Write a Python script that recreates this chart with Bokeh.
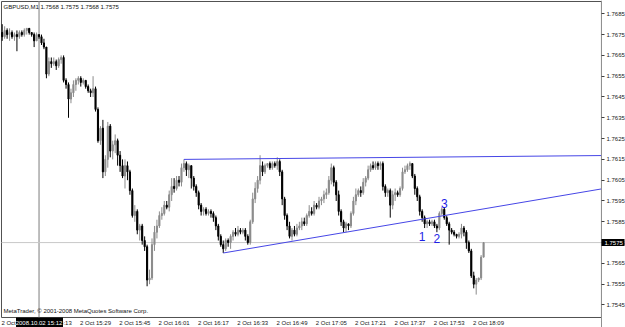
from bokeh.plotting import figure
from bokeh.models import Range1d, FixedTicker, PrintfTickFormatter, Label, LinearAxis
from bokeh.core.properties import value
from bokeh.embed import file_html
from bokeh.resources import INLINE

SYMBOL = "GBPUSD,M1"
COPYRIGHT = "MetaTrader, \u00a9 2001-2008 MetaQuotes Software Corp."

# one-minute bars from 2 Oct 14:57 (bar 0) to 18:13 (bar 196)
OPEN = [
    1.7676, 1.7674, 1.7677, 1.7675, 1.7676, 1.7674, 1.7675, 1.7674, 1.7676, 1.7675,
    1.7677, 1.7678, 1.7676, 1.7675, 1.7672, 1.7675, 1.7674, 1.7671, 1.7669, 1.7656,
    1.7662, 1.7661, 1.7662, 1.7660, 1.7663, 1.7664, 1.7653, 1.7651, 1.7644, 1.7647,
    1.7651, 1.7653, 1.7654, 1.7652, 1.7653, 1.7650, 1.7648, 1.7647, 1.7649, 1.7639,
    1.7624, 1.7630, 1.7609, 1.7615, 1.7631, 1.7619, 1.7622, 1.7624, 1.7617, 1.7612,
    1.7607, 1.7612, 1.7609, 1.7600, 1.7588, 1.7590, 1.7581, 1.7583, 1.7576, 1.7573,
    1.7557, 1.7558, 1.7574, 1.7580, 1.7583, 1.7588, 1.7589, 1.7593, 1.7592, 1.7598,
    1.7602, 1.7601, 1.7605, 1.7604, 1.7611, 1.7613, 1.7610, 1.7612, 1.7606, 1.7602,
    1.7599, 1.7593, 1.7590, 1.7591, 1.7589, 1.7590, 1.7589, 1.7587, 1.7583, 1.7578,
    1.7574, 1.7572, 1.7576, 1.7575, 1.7578, 1.7580, 1.7579, 1.7581, 1.7580, 1.7581,
    1.7578, 1.7575, 1.7585, 1.7596, 1.7601, 1.7605, 1.7612, 1.7609, 1.7612, 1.7613,
    1.7611, 1.7613, 1.7612, 1.7614, 1.7609, 1.7596, 1.7588, 1.7583, 1.7578, 1.7581,
    1.7579, 1.7582, 1.7583, 1.7585, 1.7584, 1.7588, 1.7590, 1.7589, 1.7593, 1.7592,
    1.7595, 1.7596, 1.7598, 1.7599, 1.7605, 1.7611, 1.7604, 1.7598, 1.7590, 1.7585,
    1.7582, 1.7584, 1.7583, 1.7589, 1.7595, 1.7598, 1.7600, 1.7599, 1.7604, 1.7606,
    1.7610, 1.7612, 1.7611, 1.7613, 1.7612, 1.7613, 1.7602, 1.7599, 1.7600, 1.7593,
    1.7598, 1.7599, 1.7598, 1.7601, 1.7609, 1.7610, 1.7612, 1.7613, 1.7607, 1.7601,
    1.7597, 1.7590, 1.7587, 1.7584, 1.7585, 1.7584, 1.7585, 1.7583, 1.7582, 1.7589,
    1.7591, 1.7587, 1.7584, 1.7581, 1.7580, 1.7579, 1.7578, 1.7579, 1.7582, 1.7580,
    1.7575, 1.7571, 1.7559, 1.7555, 1.7557, 1.7558, 1.7568,
]
HIGH = [
    1.7680, 1.7679, 1.7678, 1.7678, 1.7677, 1.7676, 1.7677, 1.7677, 1.7677, 1.7678,
    1.7678, 1.7678, 1.7676, 1.7676, 1.7676, 1.7675, 1.7675, 1.7673, 1.7669, 1.7664,
    1.7664, 1.7664, 1.7663, 1.7664, 1.7665, 1.7665, 1.7654, 1.7652, 1.7649, 1.7653,
    1.7654, 1.7655, 1.7655, 1.7654, 1.7653, 1.7651, 1.7649, 1.7655, 1.7650, 1.7640,
    1.7631, 1.7634, 1.7617, 1.7633, 1.7632, 1.7624, 1.7627, 1.7625, 1.7619, 1.7615,
    1.7615, 1.7614, 1.7610, 1.7601, 1.7593, 1.7591, 1.7584, 1.7584, 1.7578, 1.7574,
    1.7562, 1.7577, 1.7583, 1.7586, 1.7590, 1.7592, 1.7595, 1.7595, 1.7600, 1.7606,
    1.7606, 1.7607, 1.7607, 1.7613, 1.7615, 1.7614, 1.7613, 1.7612, 1.7607, 1.7603,
    1.7600, 1.7594, 1.7592, 1.7592, 1.7591, 1.7591, 1.7590, 1.7588, 1.7584, 1.7579,
    1.7576, 1.7577, 1.7577, 1.7579, 1.7581, 1.7582, 1.7583, 1.7582, 1.7582, 1.7582,
    1.7579, 1.7586, 1.7599, 1.7604, 1.7607, 1.7617, 1.7614, 1.7613, 1.7613, 1.7614,
    1.7614, 1.7614, 1.7616, 1.7615, 1.7610, 1.7597, 1.7589, 1.7585, 1.7582, 1.7583,
    1.7584, 1.7585, 1.7587, 1.7587, 1.7589, 1.7593, 1.7592, 1.7595, 1.7594, 1.7597,
    1.7597, 1.7600, 1.7601, 1.7607, 1.7613, 1.7612, 1.7605, 1.7600, 1.7591, 1.7586,
    1.7585, 1.7584, 1.7590, 1.7597, 1.7601, 1.7601, 1.7602, 1.7606, 1.7607, 1.7612,
    1.7613, 1.7614, 1.7614, 1.7614, 1.7614, 1.7614, 1.7603, 1.7601, 1.7601, 1.7600,
    1.7601, 1.7600, 1.7602, 1.7611, 1.7612, 1.7613, 1.7614, 1.7613, 1.7608, 1.7602,
    1.7598, 1.7591, 1.7588, 1.7586, 1.7586, 1.7586, 1.7586, 1.7584, 1.7590, 1.7592,
    1.7592, 1.7588, 1.7585, 1.7582, 1.7581, 1.7579, 1.7580, 1.7584, 1.7583, 1.7581,
    1.7576, 1.7572, 1.7561, 1.7558, 1.7558, 1.7569, 1.7575,
]
LOW = [
    1.7672, 1.7673, 1.7673, 1.7672, 1.7673, 1.7672, 1.7667, 1.7673, 1.7674, 1.7674,
    1.7675, 1.7675, 1.7674, 1.7669, 1.7672, 1.7673, 1.7670, 1.7668, 1.7654, 1.7655,
    1.7659, 1.7660, 1.7658, 1.7659, 1.7661, 1.7652, 1.7649, 1.7635, 1.7642, 1.7645,
    1.7648, 1.7651, 1.7650, 1.7651, 1.7649, 1.7647, 1.7645, 1.7645, 1.7638, 1.7623,
    1.7622, 1.7606, 1.7607, 1.7611, 1.7616, 1.7615, 1.7618, 1.7612, 1.7609, 1.7606,
    1.7601, 1.7605, 1.7598, 1.7587, 1.7585, 1.7579, 1.7576, 1.7574, 1.7571, 1.7554,
    1.7555, 1.7557, 1.7571, 1.7577, 1.7582, 1.7586, 1.7588, 1.7591, 1.7590, 1.7595,
    1.7599, 1.7600, 1.7602, 1.7602, 1.7609, 1.7607, 1.7606, 1.7601, 1.7600, 1.7597,
    1.7591, 1.7588, 1.7588, 1.7588, 1.7588, 1.7587, 1.7585, 1.7581, 1.7576, 1.7573,
    1.7570, 1.7571, 1.7573, 1.7572, 1.7576, 1.7578, 1.7578, 1.7579, 1.7579, 1.7576,
    1.7574, 1.7574, 1.7584, 1.7594, 1.7599, 1.7603, 1.7607, 1.7608, 1.7611, 1.7610,
    1.7610, 1.7611, 1.7610, 1.7607, 1.7593, 1.7586, 1.7581, 1.7577, 1.7576, 1.7578,
    1.7578, 1.7581, 1.7581, 1.7583, 1.7583, 1.7587, 1.7588, 1.7588, 1.7591, 1.7591,
    1.7593, 1.7594, 1.7596, 1.7598, 1.7603, 1.7602, 1.7595, 1.7588, 1.7583, 1.7580,
    1.7580, 1.7581, 1.7582, 1.7588, 1.7593, 1.7597, 1.7597, 1.7598, 1.7602, 1.7605,
    1.7609, 1.7610, 1.7610, 1.7610, 1.7610, 1.7600, 1.7597, 1.7597, 1.7587, 1.7591,
    1.7595, 1.7597, 1.7597, 1.7600, 1.7608, 1.7609, 1.7610, 1.7606, 1.7598, 1.7595,
    1.7588, 1.7585, 1.7582, 1.7582, 1.7583, 1.7583, 1.7582, 1.7580, 1.7581, 1.7588,
    1.7586, 1.7583, 1.7574, 1.7579, 1.7578, 1.7577, 1.7577, 1.7577, 1.7578, 1.7572,
    1.7570, 1.7558, 1.7553, 1.7550, 1.7556, 1.7557, 1.7568,
]
CLOSE = [
    1.7674, 1.7677, 1.7675, 1.7676, 1.7674, 1.7675, 1.7674, 1.7676, 1.7675, 1.7677,
    1.7678, 1.7676, 1.7675, 1.7672, 1.7675, 1.7674, 1.7671, 1.7669, 1.7656, 1.7662,
    1.7661, 1.7662, 1.7660, 1.7663, 1.7664, 1.7653, 1.7651, 1.7644, 1.7647, 1.7651,
    1.7653, 1.7654, 1.7652, 1.7653, 1.7650, 1.7648, 1.7647, 1.7649, 1.7639, 1.7624,
    1.7630, 1.7609, 1.7615, 1.7631, 1.7619, 1.7622, 1.7624, 1.7617, 1.7612, 1.7607,
    1.7612, 1.7609, 1.7600, 1.7588, 1.7590, 1.7581, 1.7583, 1.7576, 1.7573, 1.7557,
    1.7558, 1.7574, 1.7580, 1.7583, 1.7588, 1.7589, 1.7593, 1.7592, 1.7598, 1.7602,
    1.7601, 1.7605, 1.7604, 1.7611, 1.7613, 1.7610, 1.7612, 1.7606, 1.7602, 1.7599,
    1.7593, 1.7590, 1.7591, 1.7589, 1.7590, 1.7589, 1.7587, 1.7583, 1.7578, 1.7574,
    1.7572, 1.7576, 1.7575, 1.7578, 1.7580, 1.7579, 1.7581, 1.7580, 1.7581, 1.7578,
    1.7575, 1.7585, 1.7596, 1.7601, 1.7605, 1.7612, 1.7609, 1.7612, 1.7613, 1.7611,
    1.7613, 1.7612, 1.7614, 1.7609, 1.7596, 1.7588, 1.7583, 1.7578, 1.7581, 1.7579,
    1.7582, 1.7583, 1.7585, 1.7584, 1.7588, 1.7590, 1.7589, 1.7593, 1.7592, 1.7595,
    1.7596, 1.7598, 1.7599, 1.7605, 1.7611, 1.7604, 1.7598, 1.7590, 1.7585, 1.7582,
    1.7584, 1.7583, 1.7589, 1.7595, 1.7598, 1.7600, 1.7599, 1.7604, 1.7606, 1.7610,
    1.7612, 1.7611, 1.7613, 1.7612, 1.7613, 1.7602, 1.7599, 1.7600, 1.7593, 1.7598,
    1.7599, 1.7598, 1.7601, 1.7609, 1.7610, 1.7612, 1.7613, 1.7607, 1.7601, 1.7597,
    1.7590, 1.7587, 1.7584, 1.7585, 1.7584, 1.7585, 1.7583, 1.7582, 1.7589, 1.7591,
    1.7587, 1.7584, 1.7581, 1.7580, 1.7579, 1.7578, 1.7579, 1.7582, 1.7580, 1.7575,
    1.7571, 1.7559, 1.7555, 1.7557, 1.7558, 1.7568, 1.7575,
]

PRICE_TICKS = [1.7545, 1.7555, 1.7565, 1.7575, 1.7585, 1.7595, 1.7605, 1.7615,
               1.7625, 1.7635, 1.7645, 1.7655, 1.7665, 1.7675, 1.7685]
TIME_TICKS = [0, 16, 32, 48, 64, 80, 96, 112, 128, 144, 160, 176, 192]
TIME_LABELS = ["2 Oct 14:57", "2 Oct 15:13", "2 Oct 15:29", "2 Oct 15:45", "2 Oct 16:01",
               "2 Oct 16:17", "2 Oct 16:33", "2 Oct 16:49", "2 Oct 17:05", "2 Oct 17:21",
               "2 Oct 17:37", "2 Oct 17:53", "2 Oct 18:09"]

CROSS_T = 15
CROSS_LABEL = "2008.10.02 15:12"

UPPER_T = [74, 166]
UPPER_P = [1.7615, 1.7616]
LOWER_T = [90, 140]
LOWER_P = [1.7570, 1.7580]

WAVE_TEXT = ["1", "2", "3"]
WAVE_T = [171, 177, 180]
WAVE_P = [1.7578, 1.7577, 1.7594]

FONT = "Liberation Sans"
# chart area (inside the whole-canvas frame); the scales live in the margins around it
X_START, X_END = -0.285, 244.0
Y_START, Y_END = 1.753899, 1.769091
LABEL_SHIFT = 6  # time labels start at their bar and run to the right

p = figure(width=625, height=327, output_backend="svg", toolbar_location=None,
           x_range=Range1d(-0.692, 253.79), y_range=Range1d(1.753418, 1.769139),
           x_axis_location=None, y_axis_location=None,
           min_border_left=0, min_border_top=0, min_border_right=0, min_border_bottom=0)
p.grid.visible = False
p.background_fill_color = "white"
p.border_fill_color = "white"
p.outline_line_color = None

# chart area border
p.quad(left=[X_START], right=[X_END], bottom=[Y_START], top=[Y_END],
       fill_color=None, line_color="#505050", line_width=1)

# guide lines: crosshair and current price
p.segment(x0=[CROSS_T], y0=[Y_START], x1=[CROSS_T], y1=[Y_END], line_color="#a8a8a8", line_width=1.5)
p.segment(x0=[X_START], y0=[CLOSE[-1]], x1=[X_END], y1=[CLOSE[-1]], line_color="#c8c8c8", line_width=1)

# price scale, fixed on the right edge of the chart area
yax = LinearAxis(fixed_location=X_END, ticker=FixedTicker(ticks=PRICE_TICKS),
                 formatter=PrintfTickFormatter(format="%.4f"),
                 major_label_text_font=FONT, major_label_text_font_size="6px",
                 major_label_text_color="#202020", major_tick_out=3, major_tick_in=0,
                 minor_tick_out=0, minor_tick_in=0, major_label_standoff=2,
                 axis_line_color="#909090", major_tick_line_color="#404040")
bid_ax = LinearAxis(fixed_location=X_END, ticker=FixedTicker(ticks=[CLOSE[-1]]),
                    formatter=PrintfTickFormatter(format="%.4f"),
                    major_label_text_font=FONT, major_label_text_font_size="6px",
                    major_label_text_color="white",
                    major_tick_out=23, major_tick_in=0, major_tick_line_width=7,
                    major_tick_line_color="black", major_tick_line_cap="butt",
                    minor_tick_out=0, minor_tick_in=0, major_label_standoff=-20,
                    axis_line_color=None)
p.right = [yax, bid_ax]

# time scale, fixed under the chart area, and the crosshair time box
xax = LinearAxis(fixed_location=Y_START,
                 ticker=FixedTicker(ticks=[t + LABEL_SHIFT for t in TIME_TICKS]),
                 major_label_overrides={t + LABEL_SHIFT: lab for t, lab in zip(TIME_TICKS, TIME_LABELS)},
                 major_label_text_font=FONT, major_label_text_font_size="6px",
                 major_label_text_color="#202020", major_tick_out=0, major_tick_in=0,
                 minor_tick_out=0, minor_tick_in=0, major_label_standoff=3,
                 axis_line_color=None)
cross_ax = LinearAxis(fixed_location=Y_START, ticker=FixedTicker(ticks=[CROSS_T]),
                      major_label_overrides={CROSS_T: CROSS_LABEL},
                      major_label_text_font=FONT, major_label_text_font_size="6px",
                      major_label_text_color="white",
                      major_tick_out=10, major_tick_in=0, major_tick_line_width=47,
                      major_tick_line_color="black", major_tick_line_cap="butt",
                      minor_tick_out=0, minor_tick_in=0, major_label_standoff=-7,
                      axis_line_color=None)
p.below = [xax, cross_ax]

# candles
idx = list(range(len(CLOSE)))
bull = [c >= o for o, c in zip(OPEN, CLOSE)]
colors = ["#8c8c8c" if b else "#000000" for b in bull]
tops = [max(o, c) for o, c in zip(OPEN, CLOSE)]
bots = [min(o, c) for o, c in zip(OPEN, CLOSE)]
p.segment(x0=idx, y0=LOW, x1=idx, y1=HIGH, line_color=colors, line_width=1)
p.vbar(x=idx, width=0.45, top=tops, bottom=bots, fill_color=colors, line_color=colors, line_width=1)

# trend lines (rays to the right edge of the chart area)
def ray(ts, ps):
    slope = (ps[1] - ps[0]) / (ts[1] - ts[0])
    return [ts[0], X_END], [ps[0], ps[0] + slope * (X_END - ts[0])]

ux, uy = ray(UPPER_T, UPPER_P)
lx, ly = ray(LOWER_T, LOWER_P)
p.line(ux, uy, line_color="#4646e6", line_width=1)
p.line(lx, ly, line_color="#4646e6", line_width=1)

p.text(x=WAVE_T, y=WAVE_P, text=WAVE_TEXT, text_font=value(FONT), text_font_size="12px",
       text_color="#1e1ee6", text_align="center", text_baseline="middle")

# header / footer texts
hdr = f"{SYMBOL}  {OPEN[-1]:.4f} {HIGH[-1]:.4f} {LOW[-1]:.4f} {CLOSE[-1]:.4f}"
p.add_layout(Label(x=3, y=321, x_units="screen", y_units="screen", text=hdr,
                   text_font=FONT, text_font_size="6px", text_color="#101010",
                   text_baseline="middle"))
p.add_layout(Label(x=3, y=17, x_units="screen", y_units="screen", text=COPYRIGHT,
                   text_font=FONT, text_font_size="6px", text_color="#101010",
                   text_baseline="middle"))

open("out.html", "w").write(file_html(p, INLINE))
